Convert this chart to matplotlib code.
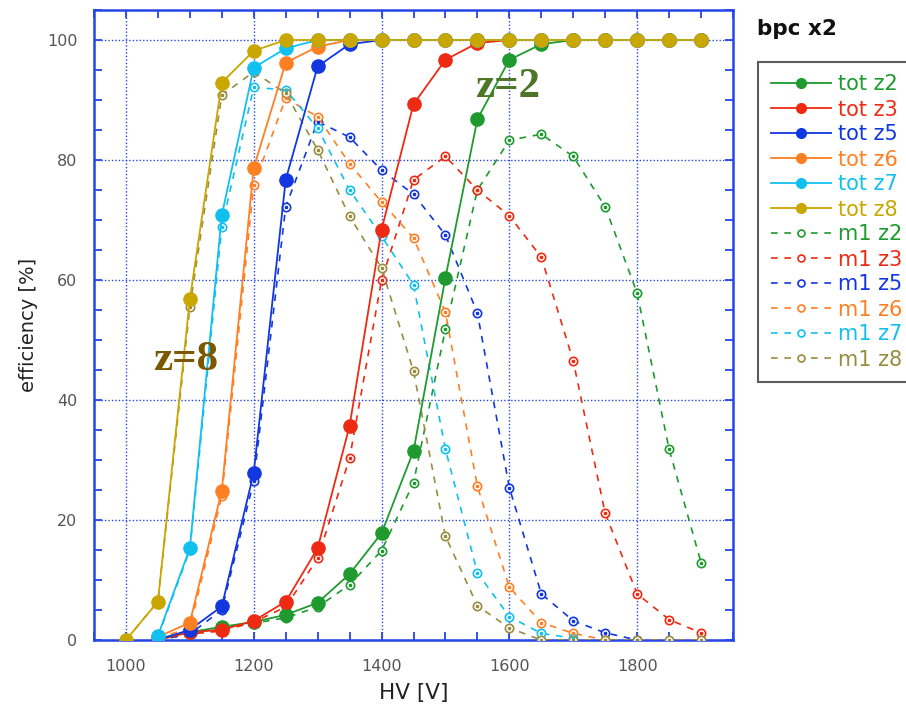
import numpy as np
import matplotlib
matplotlib.use("Agg")
import matplotlib.pyplot as plt
from matplotlib.ticker import MultipleLocator

# HV scan points
hv_tot8 = list(range(1000, 1901, 50))
hv_main = list(range(1050, 1901, 50))

# total efficiency [%]
tot_z2 = [0.3, 1.3, 2.2, 3.0, 4.2, 6.2, 11.0, 17.8, 31.5, 60.4, 86.8, 96.7, 99.3,
          100, 100, 100, 100, 100]
tot_z3 = [0.0, 1.3, 1.7, 3.2, 6.4, 15.3, 35.7, 68.4, 89.3, 96.7, 99.5,
          100, 100, 100, 100, 100, 100, 100]
tot_z5 = [0.0, 1.7, 5.6, 27.9, 76.7, 95.6, 99.3,
          100, 100, 100, 100, 100, 100, 100, 100, 100, 100, 100]
tot_z6 = [0.5, 2.9, 24.9, 78.7, 96.2, 98.9,
          100, 100, 100, 100, 100, 100, 100, 100, 100, 100, 100, 100]
tot_z7 = [0.7, 15.3, 70.8, 95.4, 98.6,
          100, 100, 100, 100, 100, 100, 100, 100, 100, 100, 100, 100, 100]
tot_z8 = [0.0, 6.4, 56.8, 92.9, 98.2,
          100, 100, 100, 100, 100, 100, 100, 100, 100, 100, 100, 100, 100, 100]

# single-hit (m1) efficiency [%]
m1_z2 = [0.0, 1.0, 1.8, 2.8, 3.7, 5.5, 9.2, 14.9, 26.2, 51.8, 75.0, 83.3, 84.3,
         80.6, 72.2, 57.8, 31.8, 12.9]
m1_z3 = [0.0, 1.0, 1.5, 3.0, 5.5, 13.6, 30.3, 60.0, 76.7, 80.6, 75.0, 70.7, 63.8,
         46.5, 21.1, 7.7, 3.4, 1.2]
m1_z5 = [0.0, 1.0, 5.0, 26.5, 72.2, 86.4, 83.8, 78.3, 74.3, 67.5, 54.5, 25.4, 7.7,
         3.2, 1.2, 0.0]
m1_z6 = [0.3, 2.0, 24.0, 75.8, 90.3, 87.2, 79.4, 73.0, 67.0, 54.6, 25.6, 8.8, 2.9,
         1.1, 0.0]
m1_z7 = [0.5, 15.0, 68.9, 92.1, 91.7, 85.3, 75.0, 67.3, 59.2, 31.8, 11.2, 3.9, 1.1,
         0.3]
m1_z8 = [0.0, 6.4, 55.5, 90.8, 94.7, 91.1, 81.7, 70.6, 62.0, 44.8, 17.3, 5.7, 2.0,
         0.0, 0.0, 0.0, 0.0, 0.0, 0.0]

labels_tot = ["tot z2", "tot z3", "tot z5", "tot z6", "tot z7", "tot z8"]
labels_m1 = ["m1 z2", "m1 z3", "m1 z5", "m1 z6", "m1 z7", "m1 z8"]

col_tot = ["#1e9a2e", "#ee2a12", "#1236e0", "#ff7f22", "#12c0f0", "#c9a600"]
col_m1 = ["#1e9a2e", "#ee2a12", "#1236e0", "#ff7f22", "#12c0f0", "#9a8c3e"]

axis_blue = "#2545e8"

fig = plt.figure(figsize=(9.06, 7.09), dpi=100)
ax = fig.add_axes([94 / 906, 1 - 640 / 709, (733 - 94) / 906, (640 - 10) / 709])

tot_series = [(hv_main, tot_z2), (hv_main, tot_z3), (hv_main, tot_z5),
              (hv_main, tot_z6), (hv_main, tot_z7), (hv_tot8, tot_z8)]
m1_series = [(hv_main, m1_z2), (hv_main, m1_z3), (hv_main[:len(m1_z5)], m1_z5),
             (hv_main[:len(m1_z6)], m1_z6), (hv_main[:len(m1_z7)], m1_z7),
             (hv_tot8, m1_z8)]

handles = []
for (x, y), c, lab in zip(m1_series, col_m1, labels_m1):
    h, = ax.plot(x, y, ls=(0, (4, 4)), lw=1.2, color=c, marker="o", ms=6,
                 mfc="white", mec=c, mew=1.2, label=lab, zorder=3)
    ax.plot(x, y, ls="none", marker="s", ms=1.6, color=c, zorder=3.1)
    handles.append(h)

tot_handles = []
for (x, y), c, lab in zip(tot_series, col_tot, labels_tot):
    h, = ax.plot(x, y, ls="-", lw=1.3, color=c, marker="o", ms=9.5,
                 mfc=c, mec=c, label=lab, zorder=4)
    tot_handles.append(h)

ax.set_xlim(950, 1950)
ax.set_ylim(0, 105)
ax.xaxis.set_major_locator(MultipleLocator(200))
ax.xaxis.set_minor_locator(MultipleLocator(50))
ax.yaxis.set_major_locator(MultipleLocator(20))
ax.yaxis.set_minor_locator(MultipleLocator(5))

ax.grid(True, which="major", color=axis_blue, ls=(0, (1, 1.5)), lw=1.0)
for s in ax.spines.values():
    s.set_color(axis_blue)
    s.set_linewidth(1.8)
ax.tick_params(which="both", direction="in", top=True, right=True,
               color=axis_blue, length=6, width=1.3)
ax.tick_params(which="major", labelsize=11.5, labelcolor="#555555")
ax.tick_params(axis="x", which="major", pad=14)
ax.tick_params(axis="y", which="major", pad=12)

ax.set_xlabel("HV [V]", fontsize=15.5, color="#222222", labelpad=6)
ax.set_ylabel("efficiency [%]", fontsize=14, color="#222222", labelpad=6)

ax.text(1598, 92.2, "z=2", fontsize=31, fontweight="bold",
        family="Liberation Serif", color="#4d7626", ha="center", va="center",
        zorder=6)
ax.text(1094, 46.7, "z=8", fontsize=31, fontweight="bold",
        family="Liberation Serif", color="#7a5800", ha="center", va="center",
        zorder=6)

fig.text(757 / 906, 1 - 29 / 709, "bpc x2", fontsize=15.5, fontweight="bold",
         color="#111111", ha="left", va="center")

leg = fig.legend(tot_handles + handles, labels_tot + labels_m1,
                 loc="upper left", bbox_to_anchor=(758 / 906, 1 - 62 / 709),
                 fontsize=15, frameon=True, fancybox=False,
                 handlelength=2.9, handletextpad=0.34, labelspacing=0.24,
                 borderpad=0.6, borderaxespad=0)
leg.get_frame().set_edgecolor("#333333")
leg.get_frame().set_linewidth(1.5)
for t, c in zip(leg.get_texts(), col_tot + col_m1):
    t.set_color(c)
for lh in leg.legend_handles:
    lh.set_markersize(7 if lh.get_linestyle() == "-" else 5)

fig.savefig("out.png", dpi=100)
